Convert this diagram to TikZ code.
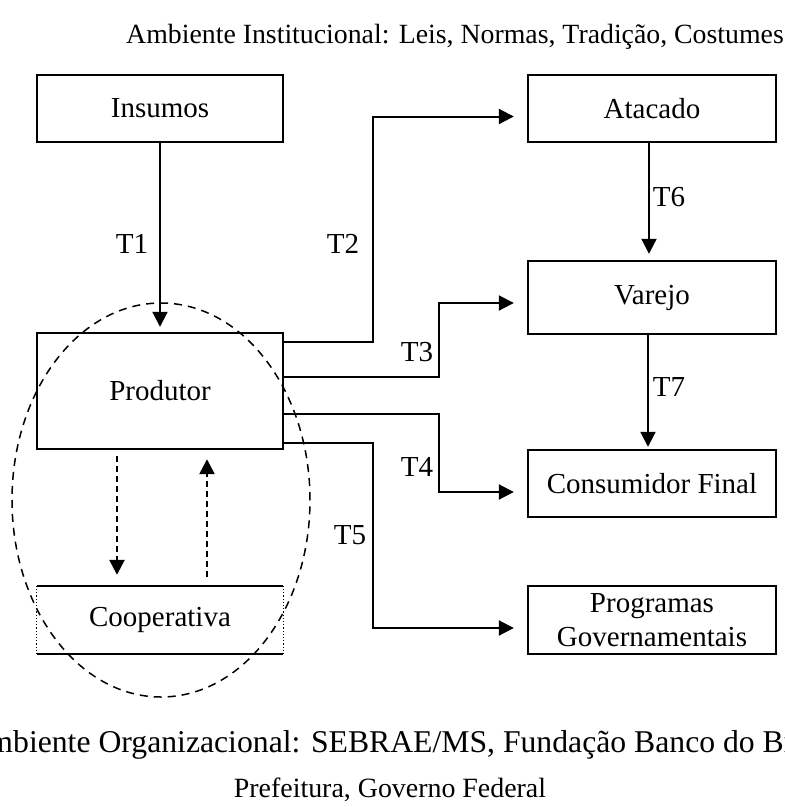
\documentclass[tikz,border=0pt]{standalone}
\usepackage{fontspec}
\setmainfont{Liberation Serif}
\usetikzlibrary{arrows.meta}

\begin{document}
\begin{tikzpicture}[x=1pt,y=-1pt,
    every node/.style={font=\fontsize{29}{34}\selectfont},
    box/.style={draw,line width=2.4pt,minimum width=246pt,inner sep=0pt},
    flow/.style={line width=2pt,-{Triangle[length=15pt,width=15pt]}},
    link/.style={line width=2.5pt,dash pattern=on 6pt off 4pt,-{Triangle[length=15pt,width=15pt]}}]
            \useasboundingbox (0,0) rectangle (785,807);
            \clip (0,0) rectangle (785,807);

            \node[anchor=base,font=\fontsize{27.8}{33}\selectfont] (inst) at (455,43) {Ambiente Institucional: Leis, Normas, Tradição, Costumes};

            \node[box,minimum height=67pt] (ins) at (160,108.5) {Insumos};
            \node[box,minimum width=248pt,minimum height=67pt] (ata) at (652,108.5) {Atacado};
            \node[box,minimum width=248pt,minimum height=73pt] (var) at (652,297.5) {Varejo};
            \node[box,minimum height=116pt] (prod) at (160,391) {Produtor};
            \node[box,minimum width=248pt,minimum height=67pt] (cons) at (652,483.5) {Consumidor Final};
            \node[box,minimum width=248pt,minimum height=68pt,align=center] (prog) at (652,620) {Programas\\Governamentais};
            \node[minimum width=246pt,minimum height=68pt,inner sep=0pt] (coop) at (160,620) {Cooperativa};
            \draw[line width=2.4pt] (coop.north west) -- (coop.north east) (coop.south west) -- (coop.south east);
            \draw[line width=1.2pt,dotted] (coop.north west) -- (coop.south west) (coop.north east) -- (coop.south east);

            \draw[line width=1.5pt,dash pattern=on 8pt off 6pt] (161,500) ellipse [x radius=149pt, y radius=197pt];

            \draw[flow] (ins.south) -- ([yshift=5pt]prod.north);
            \draw[flow] ([yshift=-10pt]prod.north east) -- ++(89,0) |- ([xshift=-13pt,yshift=-8pt]ata.west);
            \draw[flow] ([yshift=-45pt]prod.north east) -- ++(155,0) |- ([xshift=-13pt,yshift=-5.5pt]var.west);
            \draw[flow] ([yshift=-82pt]prod.north east) -- ++(155,0) |- ([xshift=-13pt,yshift=-8.5pt]cons.west);
            \draw[flow] ([yshift=-111pt]prod.north east) -- ++(89,0) |- ([xshift=-13pt,yshift=-8pt]prog.west);
            \draw[flow] ([xshift=-3pt]ata.south) -- ([xshift=-3pt,yshift=6pt]var.north);
            \draw[flow] ([xshift=-4pt]var.south) -- ([xshift=-4pt,yshift=2pt]cons.north);

            \draw[link] ([xshift=-43pt,yshift=-6pt]prod.south) -- ([xshift=-43pt,yshift=11pt]coop.north);
            \draw[link] ([xshift=47pt,yshift=9pt]coop.north) -- ([xshift=47pt,yshift=-9pt]prod.south);

            \node (t1) at (132,244) {T1};
            \node (t2) at (343,244) {T2};
            \node (t3) at (417,352) {T3};
            \node (t4) at (417,467) {T4};
            \node (t5) at (350,535) {T5};
            \node (t6) at (669,197) {T6};
            \node (t7) at (669,387) {T7};

            \node[anchor=base,font=\fontsize{31.7}{36}\selectfont] (org) at (402,752) {Ambiente Organizacional: SEBRAE/MS, Fundação Banco do Brasil};
            \node[anchor=base,font=\fontsize{27.9}{33}\selectfont] (gov) at (390,797) {Prefeitura, Governo Federal};
        \end{tikzpicture}
\end{document}
